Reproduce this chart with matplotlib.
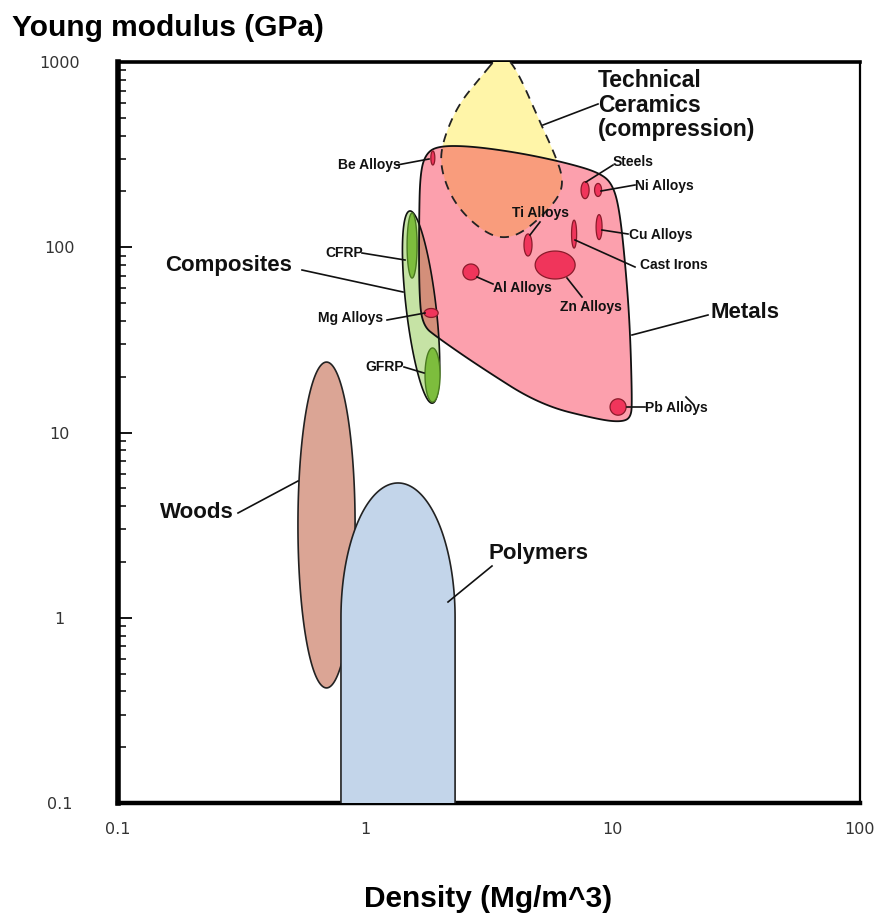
import numpy as np
import matplotlib
matplotlib.use("Agg")
import matplotlib.pyplot as plt
from matplotlib.patches import Polygon

# ---- data (density Mg/m^3, Young modulus GPa) ----
# big family envelopes drawn as ellipses in log-log space: rho lo/hi, E lo/hi, tilt
woods_rho = [0.534, 0.909]
woods_E = [0.418, 24.0]

poly_rho = [0.797, 2.306]
poly_E_top = 5.34
poly_E_dome = 1.0      # where the rounded cap meets the straight sides
poly_E_bottom = 0.02   # runs off the bottom of the chart

comp_rho = [1.461, 1.932]
comp_E = [14.4, 157]
comp_tilt = -0.086     # decades of density per decade of modulus

cfrp_rho = [1.475, 1.619]
cfrp_E = [68.2, 153]
gfrp_rho = [1.743, 2.005]
gfrp_E = [14.6, 28.6]

metals_rho = [1.665, 1.743, 1.949, 2.651, 4.222, 6.54, 8.89, 10.04, 10.71, 11.33,
              11.76, 11.98, 11.87, 10.91, 8.89, 5.085, 2.91, 1.968, 1.696, 1.649, 1.649]
metals_E = [245, 315, 352, 352, 323, 285, 252, 217, 153, 72.6,
            35.8, 15.0, 12.1, 11.4, 11.7, 14.1, 22.6, 32.4, 38.0, 58.8, 140]

ceram_rho = [3.472, 2.910, 2.371, 2.062, 2.005, 2.200, 2.578, 3.193, 3.741, 4.342,
             5.230, 6.128, 6.30, 5.850, 5.085, 4.106, 3.639]
ceram_E = [1091, 820, 586, 379, 278, 191, 144, 116, 112, 121,
           149, 191, 236, 315, 474, 905, 1091]

alloys = ["Be", "Steels", "Ni", "Cu", "Cast", "Ti", "Zn", "Al", "Mg", "Pb"]
alloy_rho_lo = [1.84, 7.45, 8.45, 8.57, 6.82, 4.38, 4.86, 2.48, 1.73, 9.76]
alloy_rho_hi = [1.91, 8.03, 9.02, 9.06, 7.15, 4.72, 7.05, 2.88, 1.97, 11.33]
alloy_E_lo = [278, 183, 188, 110, 99, 89.7, 67.4, 66.6, 41.8, 12.4]
alloy_E_hi = [331, 226, 221, 150, 140, 118, 95.4, 81.2, 46.7, 15.2]

xticks = [0.1, 1, 10, 100]
xlabels = ["0.1", "1", "10", "100"]
yticks = [0.1, 1, 10, 100, 1000]
ylabels = ["0.1", "1", "10", "100", "1000"]


def ellipse(rho, E, tilt=0.0, n=200):
    lx0, lx1 = np.log10(rho)
    ly0, ly1 = np.log10(E)
    cx, cy = (lx0 + lx1) / 2, (ly0 + ly1) / 2
    a, b = (lx1 - lx0) / 2, (ly1 - ly0) / 2
    t = np.linspace(0, 2 * np.pi, n)
    lx = cx + a * np.cos(t) + tilt * b * np.sin(t)
    ly = cy + b * np.sin(t)
    return np.column_stack([10 ** lx, 10 ** ly])


def smooth(rho, E, it=4):
    p = np.column_stack([np.log10(rho), np.log10(E)])
    for _ in range(it):
        q = np.roll(p, -1, axis=0)
        p = np.column_stack([0.75 * p + 0.25 * q, 0.25 * p + 0.75 * q]).reshape(-1, 2)
    return 10 ** p


def polymer_shape(rho, Etop, Edome, Ebot, n=120):
    lx0, lx1 = np.log10(rho)
    cx, a = (lx0 + lx1) / 2, (lx1 - lx0) / 2
    cy = np.log10(Edome)
    b = np.log10(Etop) - cy
    t = np.linspace(0, np.pi, n)
    lx = np.concatenate([cx + a * np.cos(t), [lx0, lx1]])
    ly = np.concatenate([cy + b * np.sin(t), [np.log10(Ebot)] * 2])
    return np.column_stack([10 ** lx, 10 ** ly])


W, H = 874, 917
fig = plt.figure(figsize=(W / 100, H / 100), dpi=100)
ax = fig.add_axes([118 / W, 1 - 803 / H, (860 - 118) / W, (803 - 62) / H])
ax.set_xscale("log")
ax.set_yscale("log")
ax.set_xlim(0.1, 100)
ax.set_ylim(0.1, 1000)

plt.rcParams["font.family"] = ["Liberation Sans", "DejaVu Sans"]

# fills
woods = Polygon(ellipse(woods_rho, woods_E), fc="#dba595", ec="#222", lw=1.2, zorder=2)
ax.add_patch(woods)
poly = Polygon(polymer_shape(poly_rho, poly_E_top, poly_E_dome, poly_E_bottom),
               fc="#c3d5ea", ec="#222", lw=1.2, zorder=3)
ax.add_patch(poly)

ceram_xy = smooth(ceram_rho, ceram_E)
ax.add_patch(Polygon(ceram_xy, fc="#fff5a8", ec="none", zorder=3))

metals = Polygon(smooth(metals_rho, metals_E), fc="#fca0ad", ec="none", zorder=4)
ax.add_patch(metals)
over = Polygon(ceram_xy, fc="#f99c7c", ec="none", zorder=5)
ax.add_patch(over)
over.set_clip_path(metals)

comp_xy = ellipse(comp_rho, comp_E, comp_tilt)
ax.add_patch(Polygon(comp_xy, fc="#c6e3a5", ec="none", zorder=4))
over2 = Polygon(comp_xy, fc="#d38f7a", ec="none", zorder=5)
ax.add_patch(over2)
over2.set_clip_path(metals)

# outlines
ax.add_patch(Polygon(smooth(metals_rho, metals_E), fc="none", ec="#111", lw=1.3, zorder=6))
ax.add_patch(Polygon(ceram_xy, fc="none", ec="#222", lw=1.3, ls=(0, (5, 4)), zorder=6))
ax.add_patch(Polygon(comp_xy, fc="none", ec="#111", lw=1.2, zorder=6))
for r, e in [(cfrp_rho, cfrp_E), (gfrp_rho, gfrp_E)]:
    ax.add_patch(Polygon(ellipse(r, e), fc="#7dbd3d", ec="#4a7a20", lw=1.0, zorder=7))

for i in range(len(alloys)):
    ax.add_patch(Polygon(ellipse([alloy_rho_lo[i], alloy_rho_hi[i]],
                                 [alloy_E_lo[i], alloy_E_hi[i]]),
                         fc="#f0355b", ec="#8a1a2a", lw=0.9, zorder=8))

# axes styling
for s, lw in [("left", 4), ("bottom", 3.2), ("top", 2.6), ("right", 1.6)]:
    ax.spines[s].set_linewidth(lw)
ax.set_xticks(xticks)
ax.set_xticklabels(xlabels)
ax.set_yticks(yticks)
ax.set_yticklabels(ylabels)
ax.xaxis.set_minor_locator(matplotlib.ticker.NullLocator())
ax.tick_params(axis="x", which="both", length=0, pad=14, labelsize=11.5, labelcolor="#333")
ax.tick_params(axis="y", which="major", direction="in", length=10, width=1.3, pad=42,
               labelsize=11.5, labelcolor="#333")
ax.tick_params(axis="y", which="minor", direction="in", length=6, width=1.1)
for lab in ax.get_yticklabels():
    lab.set_ha("center")


def leader(p0, p1):
    fig.add_artist(plt.Line2D([p0[0] / W, p1[0] / W], [1 - p0[1] / H, 1 - p1[1] / H],
                              color="#111", lw=1.2, zorder=10))


small = [("Be Alloys", (338, 165), (397, 165), (429, 159)),
         ("Steels", (613, 162), (586, 182), (613, 165)),
         ("Ni Alloys", (635, 186), (601, 191), (635, 185)),
         ("Ti Alloys", (512, 213), (530, 235), (540, 222)),
         ("Cu Alloys", (629, 235), (602, 230), (628, 234)),
         ("Cast Irons", (640, 265), (575, 240), (635, 267)),
         ("CFRP", (325, 253), (362, 253), (405, 260)),
         ("Al Alloys", (493, 288), (477, 277), (493, 284)),
         ("Zn Alloys", (560, 307), (567, 278), (582, 297)),
         ("Mg Alloys", (318, 318), (387, 320), (425, 313)),
         ("GFRP", (365, 367), (404, 367), (424, 373)),
         ("Pb Alloys", (645, 408), (627, 407), (645, 407))]
for txt, pt, a, b in small:
    fig.text(pt[0] / W, 1 - pt[1] / H, txt, fontsize=10, fontweight="bold",
             ha="left", va="center", color="#111")
    leader(a, b)
leader((686, 397), (693, 404))

big = [("Composites", (165, 265), (302, 270), (403, 292)),
       ("Metals", (710, 313), (632, 335), (708, 315)),
       ("Woods", (160, 512), (238, 513), (298, 481)),
       ("Polymers", (488, 553), (448, 602), (492, 566))]
for txt, pt, a, b in big:
    fig.text(pt[0] / W, 1 - pt[1] / H, txt, fontsize=16, fontweight="bold",
             ha="left", va="center", color="#111")
    leader(a, b)

fig.text(598 / W, 1 - 105 / H, "Technical\nCeramics\n(compression)", fontsize=16.5,
         fontweight="bold", ha="left", va="center", color="#111", linespacing=1.08)
leader((543, 125), (598, 104))

fig.text(12 / W, 1 - 28 / H, "Young modulus (GPa)", fontsize=21.5, fontweight="bold",
         ha="left", va="center", color="#000")
fig.text(488 / W, 1 - 899 / H, "Density (Mg/m^3)", fontsize=21.5, fontweight="bold",
         ha="center", va="center", color="#000")

fig.savefig("out.png", dpi=100, facecolor="white")
